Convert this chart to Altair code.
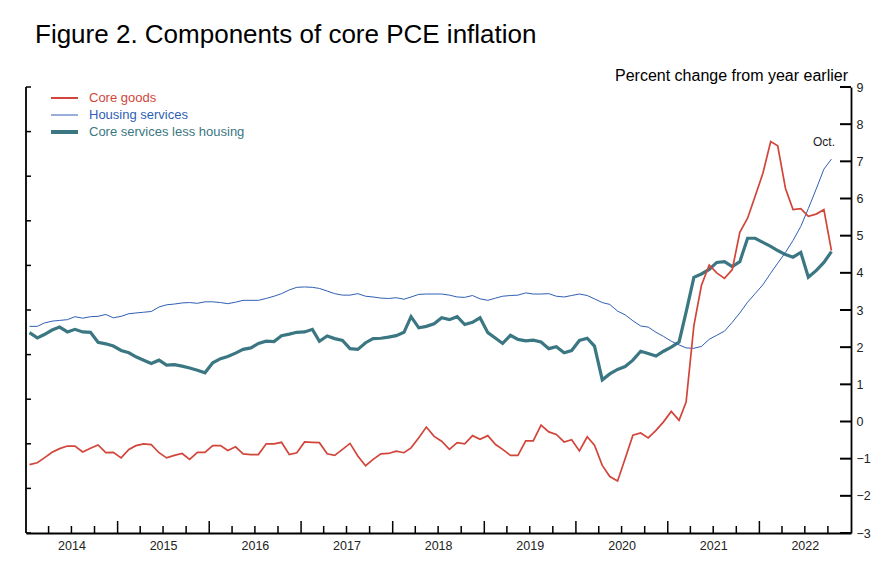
import altair as alt
import pandas as pd

FONT = "Liberation Sans"

series_names = ["Core goods", "Housing services", "Core services less housing"]
series_colors = ["#d2453a", "#2f5fb4", "#3b7782"]

# Monthly, Jan 2014 .. Oct 2022 (percent change from year earlier)
core_goods = [
    -1.16, -1.11, -0.98, -0.83, -0.73, -0.66, -0.66, -0.82, -0.72, -0.63, -0.84, -0.83,
    -0.98, -0.75, -0.65, -0.60, -0.62, -0.84, -0.98, -0.91, -0.86, -1.02, -0.83, -0.83,
    -0.65, -0.65, -0.78, -0.68, -0.87, -0.89, -0.89, -0.60, -0.60, -0.56, -0.89, -0.84,
    -0.55, -0.56, -0.57, -0.87, -0.91, -0.75, -0.59, -0.93, -1.19, -1.02, -0.87, -0.86,
    -0.80, -0.84, -0.71, -0.44, -0.15, -0.40, -0.53, -0.75, -0.57, -0.60, -0.38, -0.48,
    -0.38, -0.62, -0.75, -0.91, -0.91, -0.52, -0.52, -0.10, -0.28, -0.35, -0.55, -0.49,
    -0.79, -0.41, -0.64, -1.18, -1.48, -1.60, -1.00, -0.37, -0.31, -0.44, -0.24, -0.01,
    0.27, 0.03, 0.52, 2.58, 3.66, 4.21, 4.00, 3.85, 4.09, 5.09, 5.47, 6.06,
    6.68, 7.53, 7.42, 6.27, 5.70, 5.73, 5.52, 5.58, 5.70, 4.60,
]
housing = [
    2.56, 2.56, 2.65, 2.70, 2.72, 2.74, 2.82, 2.78, 2.82, 2.83, 2.88, 2.79,
    2.83, 2.90, 2.92, 2.94, 2.96, 3.08, 3.14, 3.16, 3.19, 3.20, 3.18, 3.22,
    3.22, 3.20, 3.17, 3.21, 3.26, 3.26, 3.26, 3.31, 3.37, 3.44, 3.54, 3.61,
    3.62, 3.61, 3.58, 3.51, 3.44, 3.40, 3.40, 3.44, 3.37, 3.35, 3.32, 3.31,
    3.33, 3.29, 3.35, 3.42, 3.43, 3.43, 3.43, 3.40, 3.35, 3.34, 3.39, 3.30,
    3.26, 3.32, 3.37, 3.39, 3.40, 3.46, 3.43, 3.43, 3.44, 3.37, 3.35, 3.39,
    3.43, 3.39, 3.30, 3.20, 3.15, 2.97, 2.87, 2.71, 2.57, 2.54, 2.40, 2.29,
    2.16, 2.06, 1.98, 1.97, 2.02, 2.21, 2.32, 2.43, 2.67, 2.92, 3.21, 3.44,
    3.68, 3.99, 4.26, 4.55, 4.87, 5.25, 5.73, 6.25, 6.79, 7.06,
]
core_services_less_housing = [
    2.39, 2.25, 2.34, 2.46, 2.54, 2.41, 2.48, 2.41, 2.40, 2.13, 2.09, 2.03,
    1.91, 1.85, 1.74, 1.65, 1.56, 1.65, 1.52, 1.53, 1.49, 1.44, 1.38, 1.31,
    1.58, 1.69, 1.75, 1.84, 1.94, 1.98, 2.10, 2.16, 2.15, 2.31, 2.35, 2.40,
    2.41, 2.48, 2.16, 2.30, 2.23, 2.18, 1.96, 1.94, 2.12, 2.23, 2.24, 2.27,
    2.31, 2.40, 2.82, 2.52, 2.56, 2.63, 2.79, 2.74, 2.82, 2.61, 2.67, 2.79,
    2.39, 2.24, 2.10, 2.32, 2.21, 2.17, 2.19, 2.14, 1.96, 2.01, 1.85, 1.91,
    2.18, 2.24, 2.03, 1.12, 1.28, 1.40, 1.48, 1.65, 1.89, 1.83, 1.76, 1.89,
    2.00, 2.14, 2.94, 3.88, 3.97, 4.09, 4.28, 4.30, 4.17, 4.30, 4.93, 4.93,
    4.82, 4.71, 4.60, 4.49, 4.42, 4.55, 3.88, 4.06, 4.28, 4.57,
]

dates = [f"{2014 + m // 12}-{m % 12 + 1:02d}-15" for m in range(len(core_goods))]

y_tick_values = list(range(-3, 10))
left_tick_values = [-3, -1.8, -0.6, 0.6, 1.8, 3, 4.2, 5.4, 6.6, 7.8, 9]
year_labels = list(range(2014, 2023))

title_text = "Figure 2. Components of core PCE inflation"
unit_text = "Percent change from year earlier"
last_label = "Oct."

W, H = 825, 446

rows = []
for name, vals in zip(series_names, [core_goods, housing, core_services_less_housing]):
    for d, v in zip(dates, vals):
        rows.append({"series": name, "date": d, "value": v})
df = pd.DataFrame(rows)

x_scale = alt.Scale(domain=[alt.DateTime(year=2014, month=1, date=1),
                            alt.DateTime(year=2023, month=1, date=1)])
y_scale = alt.Scale(domain=[-3, 9], nice=False, zero=False)

x_axis = alt.Axis(
    values=[alt.DateTime(year=y, month=7, date=1) for y in year_labels],
    format="%Y", tickSize=0, grid=False, title=None,
    domainColor="black", domainWidth=1.8,
    labelFont=FONT, labelFontSize=12.5, labelColor="#222", labelPadding=6,
)
y_axis = alt.Axis(
    orient="right", values=y_tick_values, tickSize=0, grid=False, title=None,
    domainColor="black", domainWidth=1.8,
    labelFont=FONT, labelFontSize=12.5, labelColor="#222", labelPadding=5,
)

widths = {"Core goods": 1.7, "Housing services": 1.0, "Core services less housing": 3.2}
colors = dict(zip(series_names, series_colors))

def series_layer(name):
    return alt.Chart(df).transform_filter(alt.datum.series == name).mark_line(
        color=colors[name], strokeWidth=widths[name], strokeJoin="miter"
    ).encode(
        x=alt.X("date:T", scale=x_scale, axis=x_axis),
        y=alt.Y("value:Q", scale=y_scale, axis=y_axis),
    )

lines = [
    series_layer("Core services less housing"),
    series_layer("Housing services"),
    series_layer("Core goods"),
]

# right axis inward ticks
yt = alt.Chart(pd.DataFrame({"v": y_tick_values})).mark_rule(color="black", strokeWidth=2).encode(
    y=alt.Y("v:Q", scale=y_scale, axis=y_axis), x=alt.value(W - 11), x2=alt.value(W))
# left axis line + inward ticks
lt = alt.Chart(pd.DataFrame({"v": left_tick_values})).mark_rule(color="black", strokeWidth=1.5).encode(
    y=alt.Y("v:Q", scale=y_scale, axis=y_axis), x=alt.value(0), x2=alt.value(5))
left_line = alt.Chart(pd.DataFrame({"v": [0]})).mark_rule(color="black", strokeWidth=1.8).encode(
    x=alt.value(0), y=alt.value(0), y2=alt.value(H))

# bottom axis ticks (quarterly minor, yearly major)
major = [f"{y}-01-01" for y in range(2015, 2023)]
minor = [f"{y}-{m:02d}-01" for y in range(2014, 2023) for m in (4, 7, 10)]
xt_major = alt.Chart(pd.DataFrame({"date": major})).mark_rule(color="black", strokeWidth=1.5).encode(
    x=alt.X("date:T", scale=x_scale, axis=x_axis), y=alt.value(H), y2=alt.value(H - 12))
xt_minor = alt.Chart(pd.DataFrame({"date": minor})).mark_rule(color="black", strokeWidth=1.5).encode(
    x=alt.X("date:T", scale=x_scale, axis=x_axis), y=alt.value(H), y2=alt.value(H - 7))

def text_layer(s, x, y, size, color="black", align="left", baseline="alphabetic"):
    return alt.Chart(pd.DataFrame({"t": [s]})).mark_text(
        align=align, baseline=baseline, font=FONT, fontSize=size, color=color
    ).encode(x=alt.value(x), y=alt.value(y), text="t:N")

title = text_layer(title_text, 9, -44, 26)
unit = text_layer(unit_text, 822, -6, 16, align="right")
octl = text_layer(last_label, 809, 59, 12, color="#222", align="right")

legend_layers = []
leg_y = [11, 28, 45]
for name, yy in zip(series_names, leg_y):
    lw = {"Core goods": 2, "Housing services": 1, "Core services less housing": 4}[name]
    legend_layers.append(
        alt.Chart(pd.DataFrame({"t": [name]})).mark_rule(color=colors[name], strokeWidth=lw).encode(
            x=alt.value(25), x2=alt.value(52), y=alt.value(yy)))
    legend_layers.append(text_layer(name, 63, yy, 13, color=colors[name], baseline="middle"))

chart = alt.layer(
    *lines, yt, lt, left_line, xt_major, xt_minor, title, unit, octl, *legend_layers
).properties(
    width=W, height=H,
    autosize=alt.AutoSizeParams(type="none"),
    padding={"left": 18, "top": 79, "right": 37, "bottom": 26},
    background="white",
).configure_view(stroke=None)

chart.save("out.html", embed_options={"renderer": "svg", "actions": False})
